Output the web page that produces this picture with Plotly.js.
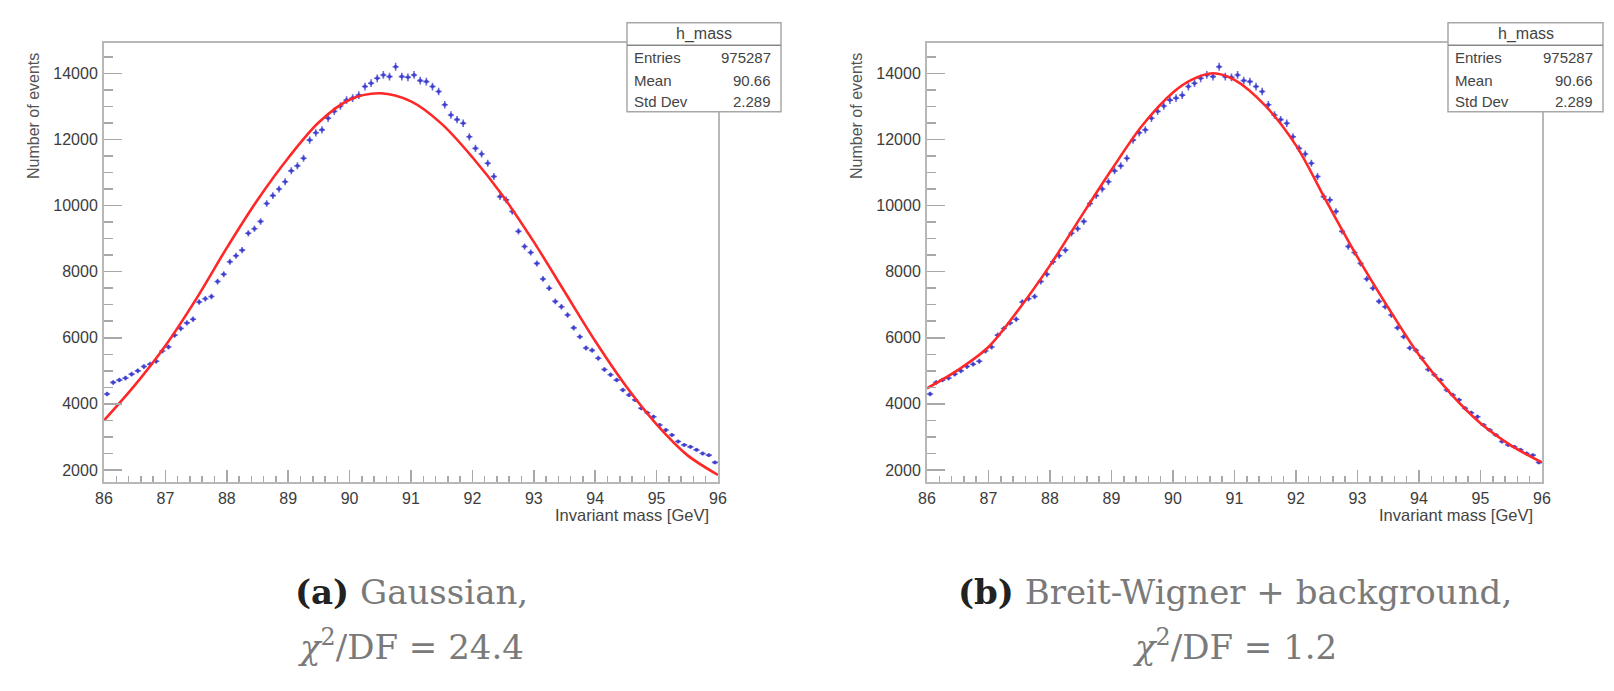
<!DOCTYPE html>
<html><head><meta charset="utf-8">
<script src="https://cdn.plot.ly/plotly-3.0.1.min.js"></script>
<style>html,body{margin:0;padding:0;background:#fff;overflow:hidden}</style>
</head><body><div id="chart" style="width:1614px;height:691px"></div>
<script>
// ---- data ----
const massBins = [86.05,86.15,86.25,86.35,86.45,86.55,86.65,86.75,86.85,86.95,
  87.05,87.15,87.25,87.35,87.45,87.55,87.65,87.75,87.85,87.95,
  88.05,88.15,88.25,88.35,88.45,88.55,88.65,88.75,88.85,88.95,
  89.05,89.15,89.25,89.35,89.45,89.55,89.65,89.75,89.85,89.95,
  90.05,90.15,90.25,90.35,90.45,90.55,90.65,90.75,90.85,90.95,
  91.05,91.15,91.25,91.35,91.45,91.55,91.65,91.75,91.85,91.95,
  92.05,92.15,92.25,92.35,92.45,92.55,92.65,92.75,92.85,92.95,
  93.05,93.15,93.25,93.35,93.45,93.55,93.65,93.75,93.85,93.95,
  94.05,94.15,94.25,94.35,94.45,94.55,94.65,94.75,94.85,94.95,
  95.05,95.15,95.25,95.35,95.45,95.55,95.65,95.75,95.85,95.95];
const entries = [4300,4650,4720,4780,4900,5000,5130,5200,5290,5600,
  5720,6080,6280,6450,6560,7080,7180,7250,7700,7920,
  8300,8480,8650,9160,9300,9520,10060,10300,10500,10720,
  11050,11200,11430,11980,12200,12290,12640,12850,13010,13190,
  13250,13340,13600,13700,13850,13950,13900,14200,13900,13880,
  13950,13780,13750,13600,13450,13050,12740,12600,12490,12080,
  11730,11560,11280,10880,10270,10170,9820,9220,8760,8580,
  8250,7780,7500,7100,6940,6690,6300,6030,5690,5620,
  5380,5040,4880,4720,4420,4270,4120,3870,3730,3610,
  3360,3210,3060,2860,2760,2700,2610,2500,2450,2230];
const gausX = [86.0,86.5,87.0,87.5,88.0,88.5,89.0,89.5,90.0,90.5,91.0,91.5,92.0,92.5,93.0,93.5,94.0,94.5,95.0,95.5,96.0];
const gausY = [3500,4560,5760,7170,8720,10170,11440,12520,13200,13395,13150,12470,11460,10280,8900,7400,5900,4540,3380,2450,1850];
const bwX = [86.0,86.5,87.0,87.5,88.0,88.5,89.0,89.5,90.0,90.3,90.65,91.0,91.5,92.0,92.5,93.0,93.5,94.0,94.5,95.0,95.5,96.0];
const bwY = [4470,5020,5720,6880,8190,9650,11080,12420,13420,13800,14000,13800,13020,11820,10110,8440,6910,5480,4340,3413,2740,2230];
const histName = "h_mass";
const statLabels = ["Entries","Mean","Std Dev"];
const statValues = ["975287","90.66","2.289"];
const xTitle = "Invariant mass [GeV]";
const yTitle = "Number of events";
const captionA1 = '<span style="color:#222"><b>(a)</b></span> Gaussian,';
const captionA2 = '<i>χ</i><sup>2</sup>/DF = 24.4';
const captionB1 = '<span style="color:#222"><b>(b)</b></span> Breit-Wigner + background,';
const captionB2 = '<i>χ</i><sup>2</sup>/DF = 1.2';

// ---- layout helpers ----
const W = 1614, H = 691;
const px = v => v / W;
const py = v => 1 - v / H;

const ptColor = 'rgba(55,55,205,0.75)';
const fitColor = 'rgb(255,40,40)';
const axisFont = {family:'Liberation Sans, Arial, sans-serif', size:16, color:'#3c3c3c'};

function xAx(dom, anchor){
  return {domain:dom, anchor:anchor, range:[86,96], showline:true, mirror:true,
    linecolor:'#b8b8b8', linewidth:2, ticks:'inside', ticklen:12, tickwidth:1.5,
    tickcolor:'#a8a8a8', tick0:86, dtick:1, showgrid:false, zeroline:false,
    minor:{ticks:'inside', dtick:0.2, ticklen:6, tickwidth:1.5, tickcolor:'#a8a8a8', showgrid:false},
    tickfont:axisFont, tickformat:'d', fixedrange:true};
}
function yAx(dom, anchor){
  return {domain:dom, anchor:anchor, range:[1628,14926], showline:true, mirror:true,
    linecolor:'#b8b8b8', linewidth:2, ticks:'inside', ticklen:18, tickwidth:1.5,
    tickcolor:'#a8a8a8', tick0:0, dtick:2000, showgrid:false, zeroline:false,
    minor:{ticks:'inside', dtick:500, ticklen:9, tickwidth:1.5, tickcolor:'#a8a8a8', showgrid:false},
    tickfont:axisFont, tickformat:'d', ticklabelstandoff:1, fixedrange:true};
}

const panels = [
  {xa:'x', ya:'y', left:104, right:718, box:[627,781], fitX:gausX, fitY:gausY, cap1:captionA1, cap2:captionA2},
  {xa:'x2', ya:'y2', left:927, right:1542, box:[1448,1603], fitX:bwX, fitY:bwY, cap1:captionB1, cap2:captionB2}
];
const plotTop = 42.7, plotBottom = 482.3;

const traces = [];
const shapes = [];
const annotations = [];
const layout = {width:W, height:H, margin:{l:0,r:0,t:0,b:0}, paper_bgcolor:'#fff', plot_bgcolor:'#fff', showlegend:false};

panels.forEach((p, i) => {
  const sfx = i === 0 ? '' : '2';
  layout['xaxis'+sfx] = xAx([px(p.left), px(p.right)], p.ya);
  layout['yaxis'+sfx] = yAx([py(plotBottom), py(plotTop)], p.xa);
  traces.push({type:'scatter', mode:'markers', x:massBins, y:entries, xaxis:p.xa, yaxis:p.ya,
    marker:{size:4, color:ptColor, symbol:'circle'},
    error_x:{type:'constant', value:0.05, width:0, thickness:1.6, color:ptColor},
    error_y:{type:'sqrt', width:0, thickness:1.6, color:ptColor},
    hoverinfo:'skip'});
  traces.push({type:'scatter', mode:'lines', x:p.fitX, y:p.fitY, xaxis:p.xa, yaxis:p.ya,
    line:{color:fitColor, width:2.6, shape:'spline', smoothing:0.9}, hoverinfo:'skip'});

  // stats box
  const [b0, b1] = p.box;
  shapes.push({type:'rect', xref:'paper', yref:'paper', x0:px(b0), x1:px(b1), y0:py(111.7), y1:py(22.7),
    fillcolor:'#fff', line:{color:'#a8a8a8', width:1.5}, layer:'above'});
  shapes.push({type:'line', xref:'paper', yref:'paper', x0:px(b0), x1:px(b1), y0:py(45.3), y1:py(45.3),
    line:{color:'#888', width:1.5}, layer:'above'});
  const sf = {family:'Liberation Sans, Arial, sans-serif', size:15, color:'#444'};
  annotations.push({xref:'paper', yref:'paper', x:px((b0+b1)/2), y:py(34), text:histName, showarrow:false,
    xanchor:'center', yanchor:'middle', font:{...sf, size:16}});
  const rowsY = [57.7, 80, 101.7];
  statLabels.forEach((lab, k) => {
    annotations.push({xref:'paper', yref:'paper', x:px(b0+5), y:py(rowsY[k]), text:lab, showarrow:false,
      xanchor:'left', yanchor:'middle', font:sf});
    annotations.push({xref:'paper', yref:'paper', x:px(b1-8), y:py(rowsY[k]), text:statValues[k], showarrow:false,
      xanchor:'right', yanchor:'middle', font:sf});
  });
  // axis titles
  annotations.push({xref:'paper', yref:'paper', x:px(p.right-7), y:py(515), text:xTitle, showarrow:false,
    xanchor:'right', yanchor:'middle', font:{family:'Liberation Sans, Arial, sans-serif', size:16.5, color:'#444'}});
  annotations.push({xref:'paper', yref:'paper', x:px(p.left-71), y:py(116), text:yTitle, showarrow:false,
    textangle:-90, xanchor:'center', yanchor:'middle', font:{family:'Liberation Sans, Arial, sans-serif', size:16, color:'#555'}});
  // captions
  const cx = (p.left + p.right) / 2;
  const cf = {family:'DejaVu Serif, serif', size:34, color:'#7a7a7a'};
  annotations.push({xref:'paper', yref:'paper', x:px(cx), y:py(592), text:p.cap1, showarrow:false,
    xanchor:'center', yanchor:'middle', font:cf});
  annotations.push({xref:'paper', yref:'paper', x:px(cx), y:py(645), text:p.cap2, showarrow:false,
    xanchor:'center', yanchor:'middle', font:cf});
});
layout.shapes = shapes;
layout.annotations = annotations;

Plotly.newPlot('chart', traces, layout, {staticPlot:true, displayModeBar:false});
</script></body></html>
